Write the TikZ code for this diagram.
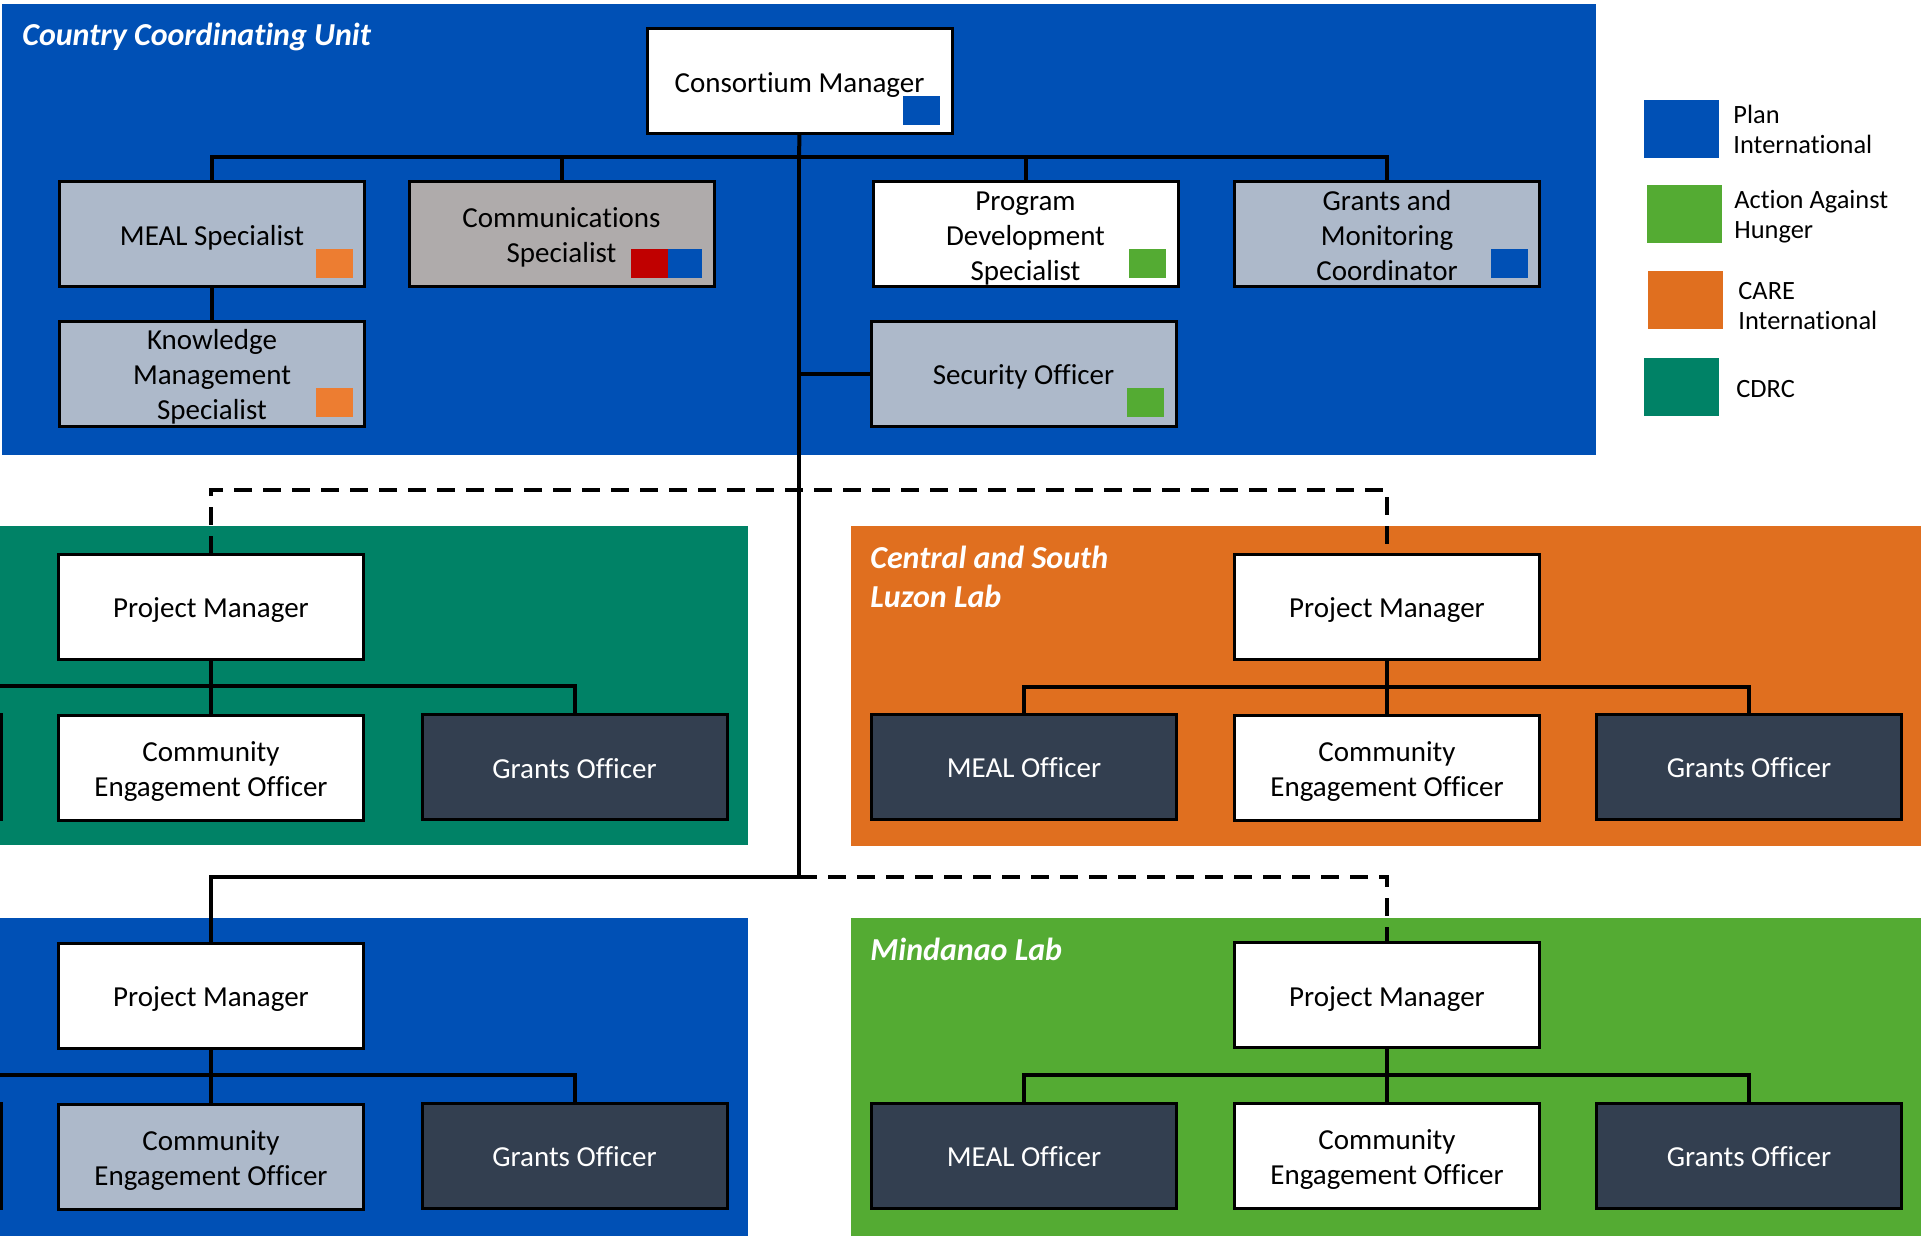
\documentclass[tikz,border=0pt]{standalone}
\usepackage{fontspec}
\setmainfont{Carlito}[Ligatures=NoCommon]
\definecolor{planblue}{RGB}{0,80,181}
\definecolor{aahgreen}{RGB}{84,171,51}
\definecolor{careorange}{RGB}{224,111,31}
\definecolor{cdrcteal}{RGB}{0,130,102}
\definecolor{boxgrey}{RGB}{173,185,202}
\definecolor{commgrey}{RGB}{175,171,171}
\definecolor{navy}{RGB}{51,63,80}
\definecolor{tagorange}{RGB}{237,125,49}
\definecolor{tagred}{RGB}{192,0,0}
\newcommand\bxfont{\fontsize{14.5pt}{17.5pt}\selectfont}
\newcommand\ttlfont{\fontsize{16pt}{19.5pt}\selectfont\bfseries\itshape}
\newcommand\lgfont{\fontsize{13.2pt}{15pt}\selectfont}
\newcommand\bt[1]{\raisebox{-2.1pt}[\height][\depth]{\begin{tabular}{@{}c@{}}#1\end{tabular}}}
\newcommand\tagsq[3]{\fill[#2] ([xshift=#3-24.5pt,yshift=4.5pt]#1.south east) rectangle ([xshift=#3-6pt,yshift=19pt]#1.south east);}
\begin{document}
\begin{tikzpicture}[x=0.5pt,y=-0.5pt,
  box/.style={draw=black, line width=1.5pt, minimum width=152.5pt, minimum height=52.5pt,
    inner sep=0pt, outer sep=0pt, font=\bxfont, text=black},
  light/.style={box, fill=boxgrey},
  whitebox/.style={box, fill=white},
  darkbox/.style={box, fill=navy, text=white},
  conn/.style={line width=2pt, black},
  dconn/.style={conn, dash pattern=on 9pt off 5.5pt},
  title/.style={font=\ttlfont, text=white, inner sep=0pt, anchor=base west},
  legsq/.style={minimum width=37.5pt, minimum height=29pt, inner sep=0pt, outer sep=0pt},
  legtext/.style={font=\lgfont, align=left, anchor=west, inner sep=0pt, text=black}]

\fill[white] (0,0) rectangle (1921,1236);
\useasboundingbox (0,0) rectangle (1921,1236);

% panels
\fill[planblue] (2,4) rectangle (1596,455);
\fill[cdrcteal] (0,526) rectangle (748,845);
\fill[careorange] (851,526) rectangle (1921,846);
\fill[planblue] (0,918) rectangle (748,1236);
\fill[aahgreen] (851,918) rectangle (1921,1236);

% titles
\node[title] (t1) at (22,46) {Country Coordinating Unit};
\node[title, anchor=north west, align=left] (t2) at (870,546) {Central and South\\Luzon Lab};
\node[title] (t3) at (870,960) {Mindanao Lab};

% coordinating unit
\node[whitebox] (cm) at (799.5,81.5) {\bt{Consortium Manager}};
\node[light] (meal) at (212,234) {\bt{MEAL Specialist}};
\node[light] (kms) at (212,373.5) {\bt{Knowledge\\Management\\Specialist}};
\node[box, fill=commgrey] (comm) at (561.5,234) {\bt{Communications\\Specialist}};
\node[whitebox] (pds) at (1025.5,234) {\bt{Program\\Development\\Specialist}};
\node[light] (gmc) at (1387,234) {\bt{Grants and\\Monitoring\\Coordinator}};
\node[light] (sec) at (1023.5,373.5) {\bt{Security Officer}};

\tagsq{cm}{planblue}{0pt}
\tagsq{meal}{tagorange}{0pt}
\tagsq{kms}{tagorange}{0pt}
\tagsq{comm}{planblue}{0pt}
\tagsq{comm}{tagred}{-17pt}
\tagsq{pds}{aahgreen}{0pt}
\tagsq{gmc}{planblue}{0pt}
\tagsq{sec}{aahgreen}{0pt}

% CDRC lab
\node[whitebox] (pm1) at (211,606.5) {\bt{Project Manager}};
\node[whitebox] (ceo1) at (211,768) {\bt{Community\\Engagement Officer}};
\node[darkbox] (go1) at (574.5,767) {\bt{Grants Officer}};
\node[darkbox] (x1) at (-151,767) {};

% Central and South Luzon lab
\node[whitebox] (pm2) at (1387,606.5) {\bt{Project Manager}};
\node[darkbox] (mo2) at (1024,766.5) {\bt{MEAL Officer}};
\node[whitebox] (ceo2) at (1387,768) {\bt{Community\\Engagement Officer}};
\node[darkbox] (go2) at (1749,766.5) {\bt{Grants Officer}};

% Plan lab
\node[whitebox] (pm3) at (211,995.5) {\bt{Project Manager}};
\node[light] (ceo3) at (211,1156.5) {\bt{Community\\Engagement Officer}};
\node[darkbox] (go3) at (574.5,1155.5) {\bt{Grants Officer}};
\node[darkbox] (x3) at (-151,1156) {};

% Mindanao lab
\node[whitebox] (pm4) at (1387,995) {\bt{Project Manager}};
\node[darkbox] (mo4) at (1024,1155.5) {\bt{MEAL Officer}};
\node[whitebox] (ceo4) at (1387,1156) {\bt{Community\\Engagement Officer}};
\node[darkbox] (go4) at (1749,1155.5) {\bt{Grants Officer}};

% legend
\node[legsq, fill=planblue] (lg1) at (1681.5,129) {};
\node[legtext] (lt1) at (1733,129) {Plan\\International};
\node[legsq, fill=aahgreen] (lg2) at (1684.5,214) {};
\node[legtext] (lt2) at (1734,216.5) {Action Against\\Hunger};
\node[legsq, fill=careorange] (lg3) at (1685.5,300) {};
\node[legtext] (lt3) at (1738,306) {CARE\\International};
\node[legsq, fill=cdrcteal] (lg4) at (1681.5,386.5) {};
\node[legtext] (lt4) at (1736,389) {CDRC};

% connectors
\coordinate (bus0) at (799,157);
\coordinate (jn) at (799,877);
\coordinate (dj) at (799,490);
\draw[conn] (cm.south) -- (bus0);
\draw[conn] (meal.north) |- (bus0) -| (gmc.north);
\draw[conn] (comm.north) -- (comm.north |- bus0);
\draw[conn] (pds.north) -- (pds.north |- bus0);
\draw[conn] (meal.south) -- (kms.north);
\draw[conn] (bus0) -- (jn) -| (pm3.north);
\draw[conn] (sec.west) -- (sec.west -| bus0);
\draw[dconn] (pm1.north) |- (dj) -| (pm2.north);
\draw[dconn] (jn) -| (pm4.north);

\coordinate (b1) at (211,686);
\draw[conn] (pm1.south) -- (ceo1.north);
\draw[conn] (x1.north) |- (b1) -| (go1.north);
\coordinate (b2) at (1387,687);
\draw[conn] (pm2.south) -- (ceo2.north);
\draw[conn] (mo2.north) |- (b2) -| (go2.north);
\coordinate (b3) at (211,1075);
\draw[conn] (pm3.south) -- (ceo3.north);
\draw[conn] (x3.north) |- (b3) -| (go3.north);
\coordinate (b4) at (1387,1075);
\draw[conn] (pm4.south) -- (ceo4.north);
\draw[conn] (mo4.north) |- (b4) -| (go4.north);
\end{tikzpicture}
\end{document}
